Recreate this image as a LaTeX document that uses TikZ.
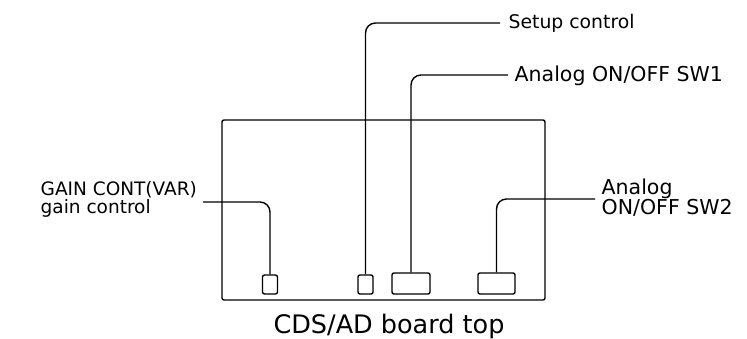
\documentclass[tikz,border=0pt]{standalone}
\usepackage{fontspec}
\setmainfont{DejaVu Sans}
\begin{document}
\begin{tikzpicture}[x=1pt,y=-1pt,
  line width=1.4pt,
  part/.style={draw, rounded corners=2pt, inner sep=0pt},
  smallpart/.style={part, minimum width=15pt, minimum height=19pt},
  widepart/.style={part, minimum width=38pt, minimum height=21pt},
  leader/.style={draw, rounded corners=10pt},
  lbl/.style={inner xsep=0pt, inner ysep=0pt, align=left}
]
\useasboundingbox (0,0) rectangle (747,339);
% board
\node[draw, rounded corners=2pt, minimum width=323pt, minimum height=180pt, inner sep=0pt] (board) at (383.5,210) {};
% parts
\node[smallpart] (gbox) at (270,284.5) {};
\node[smallpart] (sbox) at (365.5,284.5) {};
\node[widepart] (sw1box) at (411,283.5) {};
\node[widepart, minimum width=37pt] (sw2box) at (496.5,283.5) {};
% labels
\node[lbl, anchor=west, font=\fontsize{18.8}{20}\selectfont] (setup) at (508,23) {Setup control};
\node[lbl, anchor=west, font=\fontsize{20.5}{22}\selectfont] (sw1) at (514,76) {Analog ON/OFF SW1};
\node[lbl, anchor=west, font=\fontsize{20.5}{20}\selectfont] (sw2) at (601,198) {Analog\\ON/OFF SW2};
\node[lbl, anchor=north west, font=\fontsize{18.5}{15.5}\selectfont] (gain) at (40,181) {GAIN CONT(VAR)\\gain control};
\node[anchor=base, inner sep=0pt, font=\fontsize{25.5}{28}\selectfont] (caption) at (389,333) {CDS/AD board top};
% leader coordinates
\coordinate (setupend) at (500,23);
\coordinate (sw1end) at (508,75);
\coordinate (sw2end) at (595,199);
\coordinate (gainend) at (203,202);
% leaders
\draw[leader] (sbox.north) |- (setupend);
\draw[leader] (sw1box.north) |- (sw1end);
\draw[leader] (sw2box.north) |- (sw2end);
\draw[leader] (gainend) -| (gbox.north);
\end{tikzpicture}
\end{document}
